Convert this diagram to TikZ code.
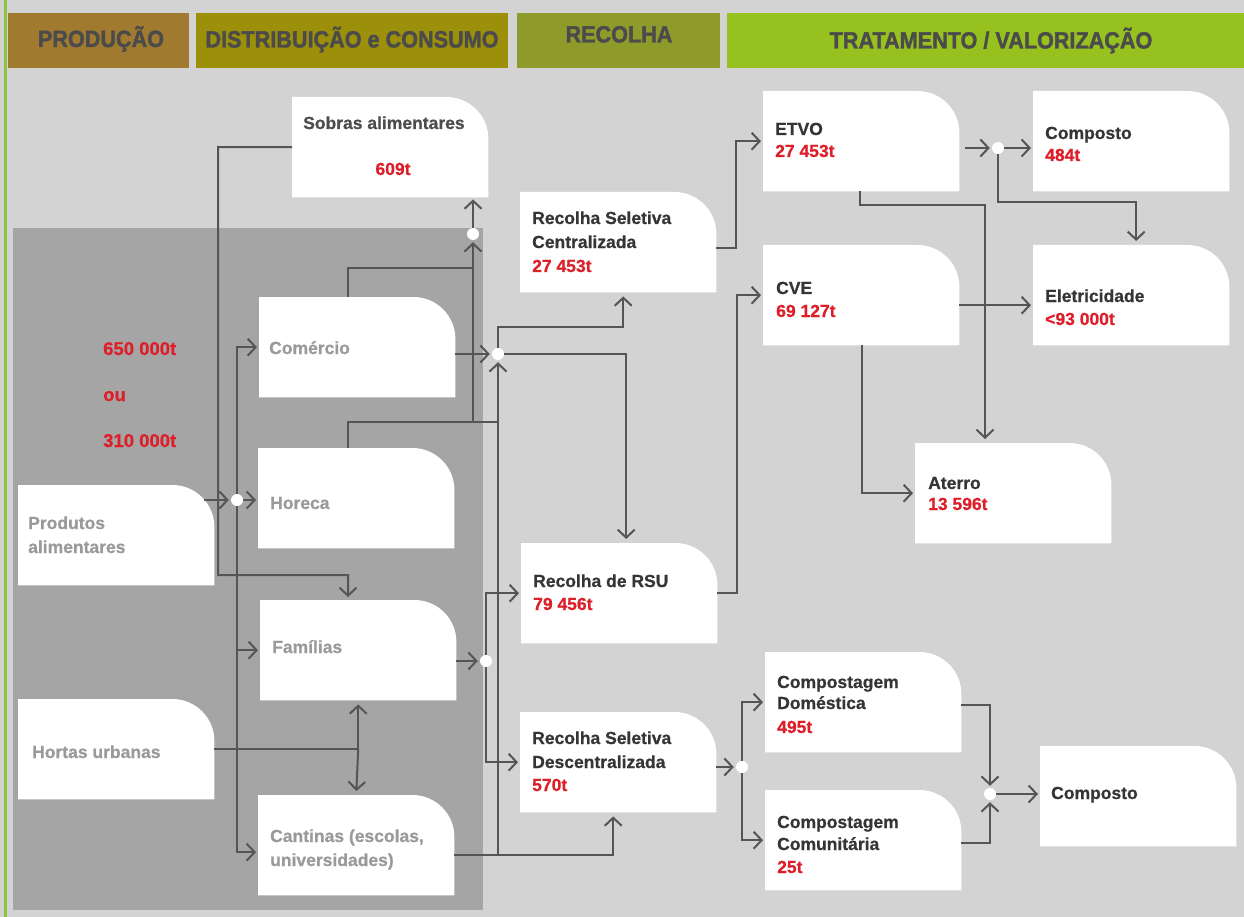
\documentclass[tikz,border=0pt]{standalone}
\usepackage{fontspec}
\setmainfont{Liberation Sans}
\newfontfamily\hdrfont[FakeStretch=0.92,FakeBold=1.6]{Liberation Sans Bold}
\newfontfamily\labfont[FakeBold=0.7]{Liberation Sans Bold}
\usetikzlibrary{arrows.meta,calc}
\pgfdeclarelayer{fg}
\pgfsetlayers{main,fg}
\definecolor{bgc}{HTML}{D4D3D3}
\definecolor{darkreg}{HTML}{A6A5A6}
\definecolor{leftgreen}{HTML}{8CC63E}
\definecolor{hprod}{HTML}{A07A2F}
\definecolor{hdist}{HTML}{9C8F0A}
\definecolor{hrec}{HTML}{8E9B2B}
\definecolor{htrat}{HTML}{96C11F}
\definecolor{htext}{HTML}{4B4B4B}
\definecolor{dktext}{HTML}{353535}
\definecolor{sobtext}{HTML}{4D4D4D}
\definecolor{gytext}{HTML}{9A9A9A}
\definecolor{redtext}{HTML}{DD1F2A}
\definecolor{linec}{HTML}{555555}
\begin{document}
\begin{tikzpicture}[x=1pt,y=-1pt,
  hdrbox/.style={rectangle,inner sep=0,anchor=north west,draw=none},
  hdrtxt/.style={anchor=base,inner sep=0,text=htext,font=\hdrfont\fontsize{23.5}{26}\selectfont},
  wb/.style={rectangle,inner sep=0,minimum width=196pt,minimum height=100pt,anchor=north west},
  lab/.style={anchor=base west,inner sep=0,font=\labfont\fontsize{17.5}{21}\selectfont},
  dk/.style={text=dktext},
  gy/.style={text=gytext},
  rd/.style={text=redtext},
  bigred/.style={text=redtext,font=\labfont\fontsize{18.5}{22}\selectfont},
  dot/.style={circle,fill=white,draw=none,inner sep=0,minimum size=12pt},
  ln/.style={draw=linec,line width=2pt},
  ar/.style={ln,-{Straight Barb[length=8pt,width=17pt]},shorten >=2pt}
]
\useasboundingbox (0,0) rectangle (1244,917);
\fill[bgc] (0,0) rectangle (1244,917);
\fill[leftgreen] (4,0) rectangle (7,917);
\fill[darkreg] (13,228) rectangle (483,910);

% headers
\node[hdrbox,fill=hprod,minimum width=181pt,minimum height=55pt] (hP) at (8,13) {};
\node[hdrbox,fill=hdist,minimum width=312pt,minimum height=55pt] (hD) at (196,13) {};
\node[hdrbox,fill=hrec,minimum width=203pt,minimum height=55pt] (hR) at (517,13) {};
\node[hdrbox,fill=htrat,minimum width=520pt,minimum height=55pt] (hT) at (727,13) {};
\node[hdrtxt] (thP) at (101,47) {PRODUÇÃO};
\node[hdrtxt] (thD) at (352,47.5) {DISTRIBUIÇÃO e CONSUMO};
\node[hdrtxt] (thR) at (619,42.5) {RECOLHA};
\node[hdrtxt] (thT) at (991,48.5) {TRATAMENTO / VALORIZAÇÃO};

% boxes
\foreach \n/\x/\y in {sob/292/97, prod/18/485, hort/18/699, com/259/297, hor/258/448,
  fam/260/600, cant/258/795, rsc/520/192, rsu/521/543, rsd/520/712, etvo/763/91,
  compa/1033/91, cve/763/245, elet/1033/245, ater/915/443, dom/765/652, comu/765/790,
  compb/1040/746}{
  \node[wb] (\n) at (\x,\y) {};
  \fill[white] (\n.south west) -- (\n.north west) -- ([xshift=-42pt]\n.north east)
    arc[start angle=90,end angle=0,radius=42pt] -- (\n.south east) -- cycle;
}

% labels
\node[lab,text=sobtext] (tsob) at (303,129) {Sobras alimentares};
\node[lab,rd,anchor=base] (tsobv) at (393,175) {609t};
\node[lab,gy] (tprod1) at (28,529) {Produtos};
\node[lab,gy] (tprod2) at (28,553) {alimentares};
\node[lab,gy] (thort) at (32,758) {Hortas urbanas};
\node[lab,gy] (tcom) at (269,354) {Comércio};
\node[lab,gy] (thor) at (270,509) {Horeca};
\node[lab,gy] (tfam) at (272,653) {Famílias};
\node[lab,gy] (tcant1) at (270,842) {Cantinas (escolas,};
\node[lab,gy] (tcant2) at (270,866) {universidades)};
\node[lab,bigred] (tq1) at (103,355) {650 000t};
\node[lab,bigred] (tq2) at (103,401) {ou};
\node[lab,bigred] (tq3) at (103,447) {310 000t};
\node[lab,dk] (trsc1) at (532,224) {Recolha Seletiva};
\node[lab,dk] (trsc2) at (532,248) {Centralizada};
\node[lab,rd] (trsc3) at (532,272) {27 453t};
\node[lab,dk] (trsu1) at (533,587) {Recolha de RSU};
\node[lab,rd] (trsu2) at (533,610) {79 456t};
\node[lab,dk] (trsd1) at (532,744) {Recolha Seletiva};
\node[lab,dk] (trsd2) at (532,768) {Descentralizada};
\node[lab,rd] (trsd3) at (532,791) {570t};
\node[lab,dk] (tetvo1) at (775,135) {ETVO};
\node[lab,rd] (tetvo2) at (775,157) {27 453t};
\node[lab,dk] (tcpa1) at (1045,139) {Composto};
\node[lab,rd] (tcpa2) at (1045,161) {484t};
\node[lab,dk] (tcve1) at (776,294) {CVE};
\node[lab,rd] (tcve2) at (776,317) {69 127t};
\node[lab,dk] (telet1) at (1045,302) {Eletricidade};
\node[lab,rd] (telet2) at (1045,325) {<93 000t};
\node[lab,dk] (tater1) at (928,489) {Aterro};
\node[lab,rd] (tater2) at (928,510) {13 596t};
\node[lab,dk] (tdom1) at (777,688) {Compostagem};
\node[lab,dk] (tdom2) at (777,709) {Doméstica};
\node[lab,rd] (tdom3) at (777,733) {495t};
\node[lab,dk] (tcomu1) at (777,828) {Compostagem};
\node[lab,dk] (tcomu2) at (777,850) {Comunitária};
\node[lab,rd] (tcomu3) at (777,873) {25t};
\node[lab,dk] (tcpb) at (1051,799) {Composto};

% junction dots
\begin{pgfonlayer}{fg}
\node[dot] (dS) at (473,234) {};
\node[dot] (d1) at (237,500) {};
\node[dot] (dC) at (498,354) {};
\node[dot] (dF) at (486,661) {};
\node[dot] (dE) at (998,148) {};
\node[dot] (dD) at (742,767) {};
\node[dot] (dK) at (990,794) {};
\end{pgfonlayer}

% helper coordinates
\coordinate (sobL) at (218,147);
\coordinate (sobD) at (218,575);
\coordinate (po) at (204,500);
\coordinate (cw) at ([yshift=-7pt]cant.west);
\coordinate (hj) at (fam.south |- hort.east);
\coordinate (ct) at ([xshift=89pt]com.north west);
\coordinate (ct2) at (473,268);
\coordinate (ht) at ([xshift=90pt]hor.north west);
\coordinate (ht2) at (498,422);
\coordinate (tb473) at (473,422);
\coordinate (tb498) at (498,855);

% connectors
\draw[ar,shorten >=3pt] (sob.west) -- (sobL) -- (sobD) -| ([xshift=88pt]fam.north west);
\draw[ar] (po) -- (d1);
\draw[ar] (d1) -- (d1 -| hor.west);
\draw[ar] (d1) |- (com.west);
\draw[ar] (d1) |- (fam.west);
\draw[ar] (d1) |- (cw);
\draw[ln] (hort.east) -- (hj);
\draw[ar,shorten >=4pt] (hj) -- (fam.south);
\draw[ar,shorten >=4pt] (hj) -- (cant.north);
\draw[ln] (ct) |- (ct2);
\draw[ln] (ht) |- (ht2);
\draw[ar] (tb473) -- (dS);
\draw[ar] (dS) -- (dS |- sob.south);
\draw[ar] (com.east |- dC) -- (dC);
\draw[ar] (tb498) -- (dC);
\draw[ar,shorten >=4pt] ([yshift=-10pt]cant.east) -| ([xshift=-5pt]rsd.south);
\draw[ar,shorten >=4pt] (dC) -- ++(0,-27) -| ([xshift=5pt]rsc.south);
\draw[ar,shorten >=4pt] (dC) -| ([xshift=7pt]rsu.north);
\draw[ar] (fam.east |- dF) -- (dF);
\draw[ar] (dF) |- (rsu.west);
\draw[ar] (dF) |- (rsd.west);
\draw[ar] ([yshift=-6pt]rsc.east) -- ++(20,0) |- (etvo.west);
\draw[ar] (rsu.east) -- ++(20,0) |- (cve.west);
\draw[ar,shorten <=6pt] (etvo.east |- dE) -- (dE);
\draw[ar] (dE) -- (dE -| compa.west);
\draw[ar,shorten >=4pt] (dE) -- ++(0,54) -| ([xshift=5pt]elet.north);
\draw[ar,shorten >=4pt] ([xshift=97pt]etvo.south west) -- ++(0,14) -| ([xshift=70pt]ater.north west);
\draw[ar] ([yshift=-10pt]cve.east) -- ([yshift=-10pt]elet.west);
\draw[ar] ([xshift=99pt]cve.south west) |- (ater.west);
\draw[ar] (rsd.east |- dD) -- (dD);
\draw[ar] (dD) |- (dom.west);
\draw[ar] (dD) |- (comu.west);
\draw[ar] ([yshift=-3pt]dom.east) -| (dK);
\draw[ar] ([yshift=-3pt]comu.east) -| (dK);
\draw[ar] (dK) -- (dK -| compb.west);
\end{tikzpicture}
\end{document}
